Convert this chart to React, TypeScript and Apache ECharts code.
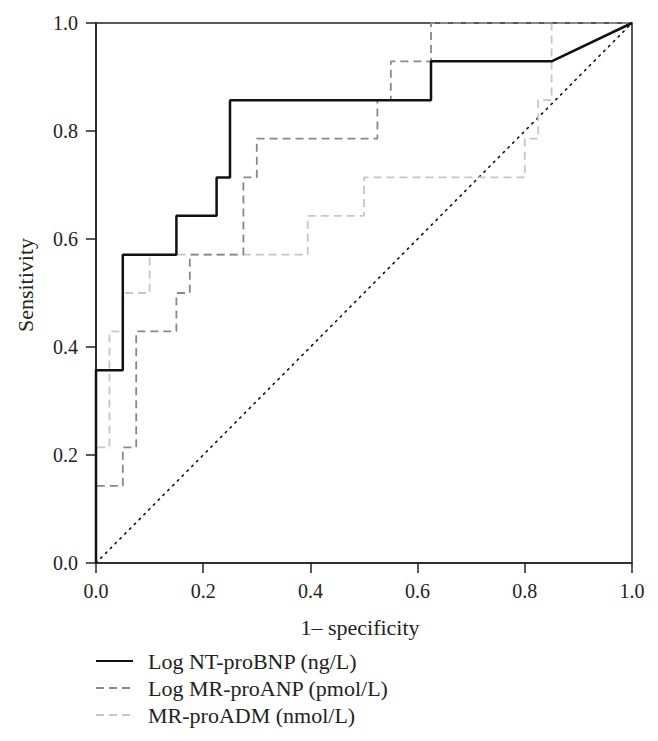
import React, { useEffect, useRef } from "react";
import * as echarts from "echarts";

const X_TICKS = [0, 0.2, 0.4, 0.6, 0.8, 1.0];

const NT_NAME = "Log NT-proBNP (ng/L)";
const NT_FPR = [0, 0, 0.05, 0.05, 0.15, 0.15, 0.225, 0.225, 0.25, 0.25, 0.625, 0.625, 0.85, 1];
const NT_TPR = [0, 0.357, 0.357, 0.571, 0.571, 0.643, 0.643, 0.714, 0.714, 0.857, 0.857, 0.929, 0.929, 1];

const ANP_NAME = "Log MR-proANP (pmol/L)";
const ANP_FPR = [0, 0, 0.05, 0.05, 0.075, 0.075, 0.15, 0.15, 0.175, 0.175, 0.275, 0.275, 0.3, 0.3, 0.525, 0.525, 0.55, 0.55, 0.625, 0.625, 1];
const ANP_TPR = [0, 0.143, 0.143, 0.214, 0.214, 0.429, 0.429, 0.5, 0.5, 0.571, 0.571, 0.714, 0.714, 0.786, 0.786, 0.857, 0.857, 0.929, 0.929, 1, 1];

const ADM_NAME = "MR-proADM (nmol/L)";
const ADM_FPR = [0, 0, 0.025, 0.025, 0.05, 0.05, 0.1, 0.1, 0.395, 0.395, 0.5, 0.5, 0.8, 0.8, 0.825, 0.825, 0.85, 0.85, 1];
const ADM_TPR = [0, 0.214, 0.214, 0.429, 0.429, 0.5, 0.5, 0.571, 0.571, 0.643, 0.643, 0.714, 0.714, 0.786, 0.786, 0.857, 0.857, 1, 1];

const REF_FPR = [0, 1];
const REF_TPR = [0, 1];

const FONT = "'Liberation Serif', 'DejaVu Serif', serif";

const zip = (xs: number[], ys: number[]) => xs.map((x, i) => [x, ys[i]]);

export default function App() {
  const ref = useRef<HTMLDivElement>(null);
  useEffect(() => {
    if (!ref.current) return;
    const chart = echarts.init(ref.current, undefined, { renderer: "svg" });
    const axisCommon = {
      type: "value" as const,
      min: 0,
      max: 1,
      interval: 0.2,
      axisLine: { show: true, lineStyle: { color: "#222", width: 1.5 } },
      axisTick: { show: true, inside: false, length: 10, lineStyle: { color: "#222", width: 1.5 } },
      splitLine: { show: false },
      axisLabel: {
        color: "#222",
        fontSize: 20,
        fontFamily: FONT,
        margin: 18,
        formatter: (v: number) => v.toFixed(1),
      },
    };
    chart.setOption({
      animation: false,
      backgroundColor: "#fff",
      grid: {
        left: 96,
        right: 26,
        top: 23,
        bottom: 178,
        show: true,
        borderColor: "#222",
        borderWidth: 1.5,
      },
      xAxis: { ...axisCommon, customValues: X_TICKS },
      yAxis: { ...axisCommon },
      legend: {
        orient: "vertical",
        left: 95,
        top: 650,
        padding: 0,
        itemWidth: 37,
        itemHeight: 14,
        itemGap: 5,
        itemStyle: { opacity: 0, borderWidth: 0 },
        data: [NT_NAME, ANP_NAME, ADM_NAME],
        textStyle: {
          color: "#222",
          fontSize: 22,
          lineHeight: 22,
          fontFamily: FONT,
          padding: [0, 0, 0, 10],
        },
      },
      graphic: [
        {
          type: "text",
          x: 25,
          y: 285,
          rotation: Math.PI / 2,
          style: {
            text: "Sensitivity",
            fontSize: 22,
            fontFamily: FONT,
            fill: "#222",
            align: "center",
            verticalAlign: "middle",
          },
        },
        {
          type: "text",
          x: 360,
          y: 627,
          style: {
            text: "1\u2013 specificity",
            fontSize: 22,
            fontFamily: FONT,
            fill: "#222",
            align: "center",
            verticalAlign: "middle",
          },
        },
      ],
      series: [
        {
          name: "ref",
          type: "line",
          data: zip(REF_FPR, REF_TPR),
          symbol: "none",
          lineStyle: { color: "#111", width: 1.6, type: [1.6, 5.2], cap: "round" },
          silent: true,
          z: 1,
        },
        {
          name: ADM_NAME,
          type: "line",
          data: zip(ADM_FPR, ADM_TPR),
          symbol: "none",
          itemStyle: { color: "#c6c6c6" },
          lineStyle: { color: "#c6c6c6", width: 1.8, type: [8, 5] },
          z: 2,
        },
        {
          name: ANP_NAME,
          type: "line",
          data: zip(ANP_FPR, ANP_TPR),
          symbol: "none",
          itemStyle: { color: "#888" },
          lineStyle: { color: "#888", width: 1.8, type: [8, 5] },
          z: 3,
        },
        {
          name: NT_NAME,
          type: "line",
          data: zip(NT_FPR, NT_TPR),
          symbol: "none",
          itemStyle: { color: "#111" },
          lineStyle: { color: "#111", width: 2.5 },
          z: 4,
        },
      ],
    });
    return () => chart.dispose();
  }, []);
  return (
    <div
      ref={ref}
      style={{ position: "fixed", left: 0, top: 0, width: 658, height: 741, background: "#fff" }}
    />
  );
}
